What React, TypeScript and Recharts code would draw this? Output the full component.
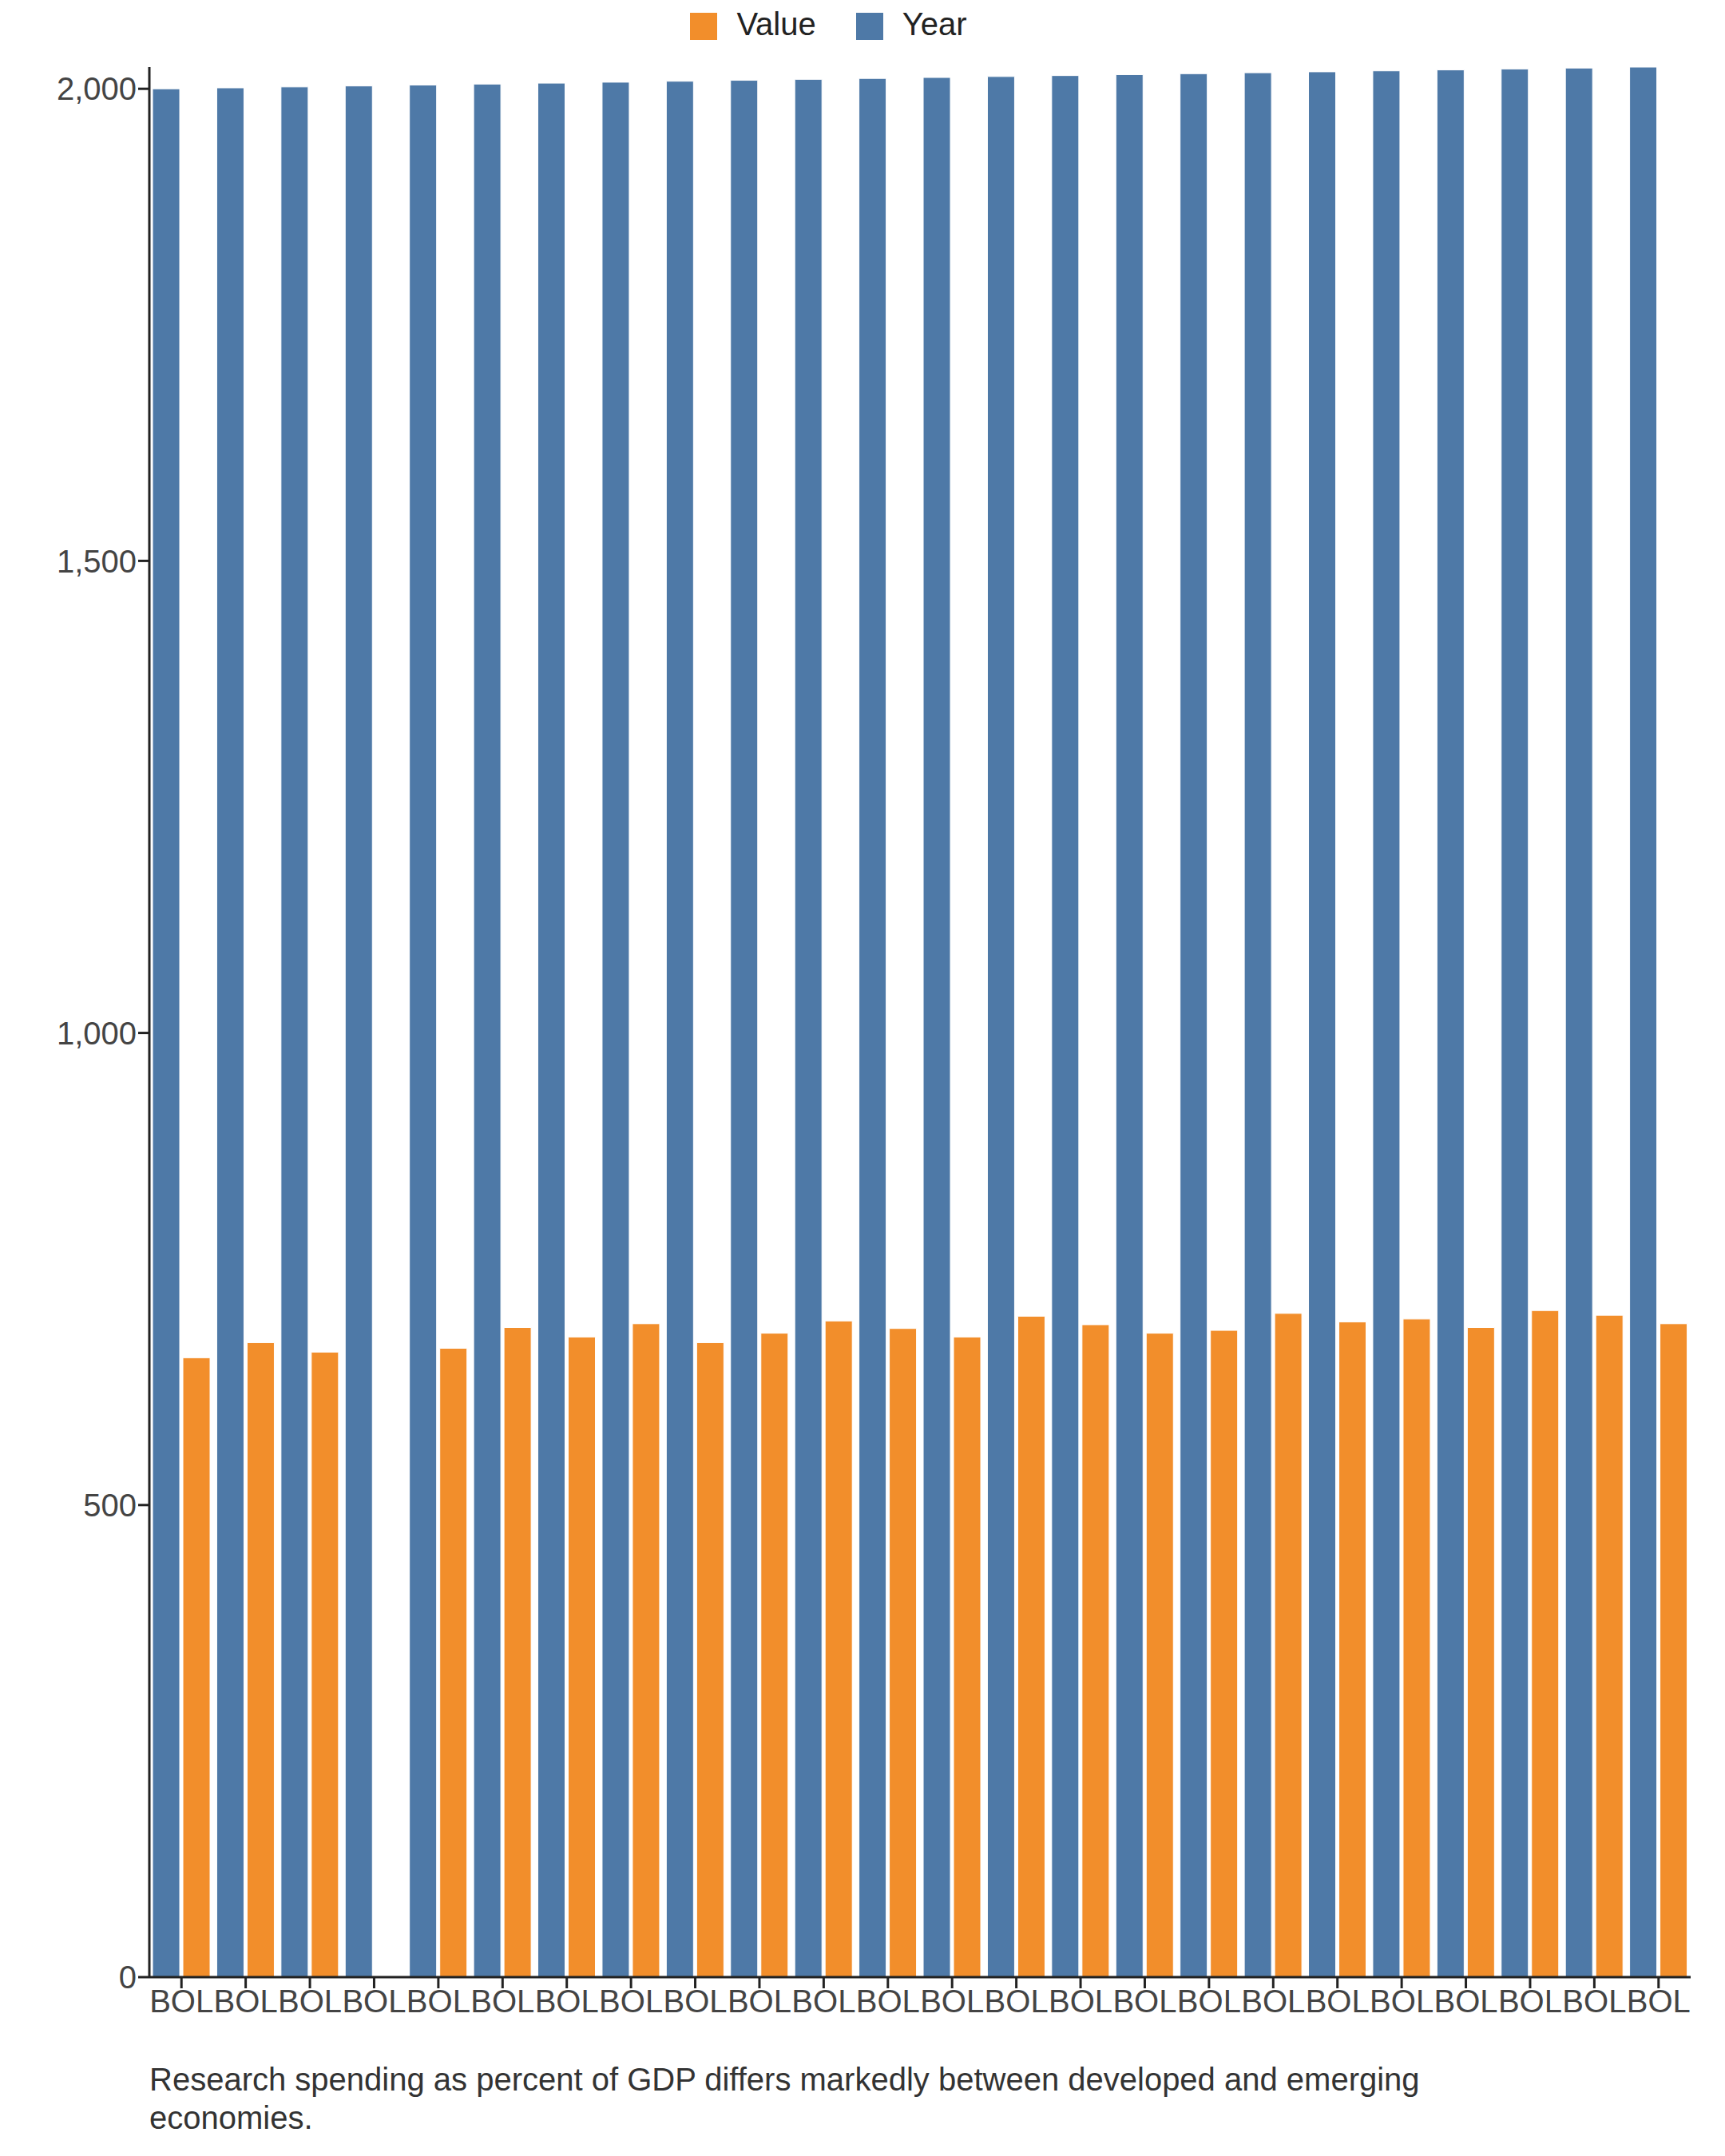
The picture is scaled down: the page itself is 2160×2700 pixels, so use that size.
import { BarChart, Bar, XAxis, YAxis, Legend } from 'recharts';

const countries = Array(24).fill('BOL');
const years = [2000, 2001, 2002, 2003, 2004, 2005, 2006, 2007, 2008, 2009, 2010, 2011, 2012, 2013, 2014, 2015, 2016, 2017, 2018, 2019, 2020, 2021, 2022, 2023];
const values: (number | null)[] = [656, 672, 662, null, 666, 688, 678, 692, 672, 682, 695, 687, 678, 700, 691, 682, 685, 703, 694, 697, 688, 706, 701, 692];
const yTicks = [0, 500, 1000, 1500, 2000];

const data = countries.map((c, i) => ({ country: c, Year: years[i], Value: values[i] }));

const font = 'Arial, "Liberation Sans", sans-serif';

export default function App() {
  return (
    <div style={{ width: 2144, fontFamily: font }}>
      <BarChart
        width={2144}
        height={2560}
        data={data}
        margin={{ top: 20, right: 35, left: 0, bottom: 0 }}
        barGap={4}
        barCategoryGap="5%"
      >
        <Legend
          verticalAlign="top"
          height={56}
          iconType="square"
          iconSize={34}
          wrapperStyle={{ top: 0, fontSize: 40, fontFamily: font }}
          formatter={(v) => <span style={{ color: '#222', margin: '0 40px 0 20px' }}>{v}</span>}
        />
        <XAxis
          dataKey="country"
          interval={0}
          height={92}
          tick={{ fill: '#444', fontSize: 40, fontFamily: font }}
          tickSize={14}
          axisLine={{ stroke: '#222', strokeWidth: 3 }}
          tickLine={{ stroke: '#222', strokeWidth: 3 }}
        />
        <YAxis
          width={179}
          domain={[0, 'dataMax']}
          ticks={yTicks}
          tickFormatter={(v) => v.toLocaleString('en-US')}
          tick={{ fill: '#444', fontSize: 40, fontFamily: font }}
          tickSize={14}
          axisLine={{ stroke: '#222', strokeWidth: 3 }}
          tickLine={{ stroke: '#222', strokeWidth: 3 }}
        />
        <Bar dataKey="Year" fill="#4e79a7" stroke="#fff" strokeWidth={1} isAnimationActive={false} />
        <Bar dataKey="Value" fill="#f28e2b" stroke="#fff" strokeWidth={1} isAnimationActive={false} />
      </BarChart>
      <div style={{ marginLeft: 179, marginTop: 12, fontSize: 40, color: '#333', lineHeight: '48px', width: 1800 }}>
        Research spending as percent of GDP differs markedly between developed and emerging economies.
      </div>
    </div>
  );
}
